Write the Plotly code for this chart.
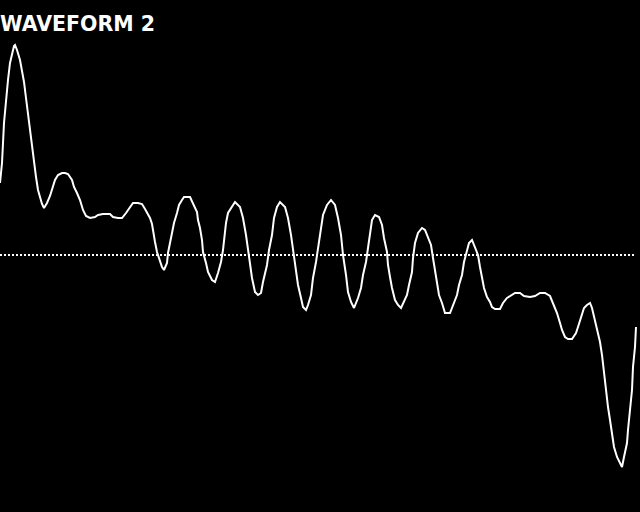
import plotly.graph_objects as go

title_text = "WAVEFORM 2"

# sample position along the trace
sample_x = [0, 2, 4, 6, 8, 10, 12, 14, 15, 17, 20, 22, 24, 26, 28, 30, 32, 34, 36, 38, 40, 42, 44,
            47, 50, 53, 55, 58, 62, 65, 68, 72, 74, 77, 80, 83, 86, 90, 95, 98, 103, 110, 113, 118,
            122, 126, 130, 133, 138, 142, 145, 148, 150, 152, 153, 155, 157, 159, 162, 164, 167, 168,
            170, 172, 174, 177, 179, 182, 184, 190, 193, 197, 198, 200, 202, 203, 206, 208, 212, 215,
            218, 221, 223, 224, 226, 228, 232, 235, 240, 243, 246, 248, 250, 252, 255, 258, 261, 263,
            267, 269, 272, 274, 277, 280, 285, 288, 291, 293, 296, 298, 301, 303, 306, 308, 311, 313,
            316, 318, 321, 323, 327, 331, 335, 338, 341, 343, 346, 348, 351, 354, 358, 361, 363, 366,
            368, 370, 372, 375, 379, 382, 384, 387, 388, 390, 392, 395, 398, 401, 404, 407, 409, 412,
            413, 415, 418, 422, 425, 428, 431, 433, 435, 437, 439, 442, 445, 450, 453, 457, 459, 462,
            464, 467, 469, 472, 475, 478, 480, 482, 484, 487, 490, 492, 495, 500, 503, 507, 512, 515,
            520, 524, 530, 535, 540, 545, 550, 553, 557, 560, 562, 565, 568, 572, 576, 578, 581, 584,
            587, 590, 592, 595, 598, 600, 602, 604, 606, 608, 610, 612, 614, 617, 620, 622, 624, 627,
            628, 630, 632, 633, 635, 636]

# amplitude relative to the dotted zero line
amplitude = [72, 92, 132, 158, 175, 192, 202, 209, 210, 205, 195, 185, 173, 157, 140, 125, 110, 93, 78,
             65, 58, 51, 47, 52, 59, 68, 75, 80, 82, 82, 81, 75, 68, 62, 55, 45, 39, 37, 38, 40, 41,
             41, 38, 37, 37, 42, 48, 52, 52, 51, 46, 41, 37, 31, 23, 13, 3, -3, -12, -15, -8, 2, 12,
             22, 32, 42, 50, 55, 58, 58, 52, 43, 35, 27, 15, 3, -8, -17, -25, -27, -18, -7, 5, 15, 32,
             42, 48, 53, 48, 37, 20, 5, -10, -23, -37, -40, -38, -27, -10, 5, 20, 37, 48, 53, 48, 37,
             20, 5, -13, -30, -43, -52, -55, -50, -40, -23, -7, 7, 23, 40, 50, 55, 50, 37, 20, 0, -20,
             -37, -47, -53, -43, -33, -20, -7, 7, 20, 35, 40, 38, 30, 17, 3, -10, -22, -33, -45, -50,
             -53, -47, -40, -30, -17, -3, 12, 22, 27, 25, 18, 10, -3, -17, -30, -40, -48, -58, -58,
             -50, -40, -30, -20, -7, 3, 12, 15, 8, 0, -12, -22, -33, -42, -47, -52, -54, -54, -48,
             -43, -40, -38, -38, -41, -42, -41, -38, -38, -41, -48, -58, -68, -75, -82, -84, -84, -78,
             -72, -62, -53, -50, -48, -53, -65, -77, -87, -100, -118, -135, -152, -165, -178, -192,
             -202, -208, -212, -202, -188, -175, -158, -135, -112, -92, -72]

zero_line_x = [0, 634]
zero_line_y = [0, 0]

fig = go.Figure()

fig.add_trace(go.Scatter(
    x=zero_line_x, y=zero_line_y, mode="lines",
    line=dict(color="white", width=2, dash="2px,2px"),
    hoverinfo="skip", showlegend=False,
))

fig.add_trace(go.Scatter(
    x=sample_x, y=amplitude, mode="lines",
    line=dict(color="white", width=2),
    showlegend=False,
))

fig.add_annotation(
    text=title_text, xref="paper", yref="paper",
    x=-1 / 640, y=1 - 23.5 / 512, xanchor="left", yanchor="middle",
    showarrow=False, borderpad=0,
    font=dict(family="DejaVu Sans", size=20.5, color="white", weight="bold"),
)

fig.update_layout(
    width=640, height=512,
    margin=dict(l=0, r=0, t=0, b=0),
    paper_bgcolor="black", plot_bgcolor="black",
    xaxis=dict(range=[0, 640], visible=False, fixedrange=True),
    yaxis=dict(range=[-257, 255], visible=False, fixedrange=True),
    showlegend=False,
)

fig.write_html("out.html", config={"displayModeBar": False})
